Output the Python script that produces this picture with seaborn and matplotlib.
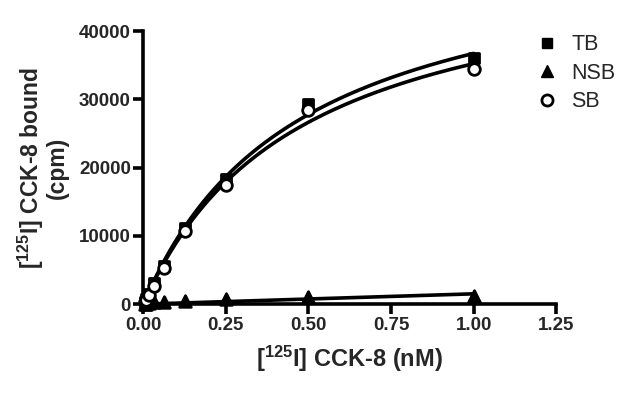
import numpy as np
import pandas as pd
import seaborn as sns
import matplotlib.pyplot as plt
from matplotlib.lines import Line2D

# concentrations of [125I] CCK-8 (nM)
conc = [0.0039, 0.0078, 0.0156, 0.03125, 0.0625, 0.125, 0.25, 0.5, 1.0]

# bound counts (cpm)
tb = [300, 700, 1500, 3100, 5600, 11100, 18300, 29300, 36000]
nsb = [50, 80, 150, 250, 380, 500, 700, 1000, 1250]
sb = [250, 650, 1300, 2700, 5300, 10700, 17400, 28400, 34400]

series_names = ['TB', 'NSB', 'SB']
x_ticks = [0.0, 0.25, 0.5, 0.75, 1.0, 1.25]
y_ticks = [0, 10000, 20000, 30000, 40000]

sns.set_style("ticks")
plt.rcParams['font.family'] = ['Liberation Sans', 'DejaVu Sans']
plt.rcParams['mathtext.fontset'] = 'custom'
plt.rcParams['mathtext.rm'] = 'Liberation Sans:bold'
plt.rcParams['mathtext.default'] = 'rm'


def fit_hyperbola(x, y):
    # one-site binding fit, scan Kd and solve Bmax by least squares
    x = np.asarray(x, float)
    y = np.asarray(y, float)
    best = None
    for kd in np.linspace(0.01, 5, 2000):
        f = x / (kd + x)
        bmax = (f @ y) / (f @ f)
        err = ((bmax * f - y) ** 2).sum()
        if best is None or err < best[0]:
            best = (err, kd, bmax)
    return best[1], best[2]


df = pd.DataFrame({
    'conc': conc * 3,
    'bound': tb + nsb + sb,
    'series': ['TB'] * len(conc) + ['NSB'] * len(conc) + ['SB'] * len(conc),
})

fig, ax = plt.subplots(figsize=(6.4, 3.93), dpi=100)
fig.subplots_adjust(left=0.224, right=0.869, bottom=0.226, top=0.921)

xs = np.linspace(0, max(conc), 300)
curves = []
for name in series_names:
    sub = df[df['series'] == name]
    if name == 'NSB':
        slope = (sub['conc'] @ sub['bound']) / (sub['conc'] @ sub['conc'])
        ys = slope * xs
    else:
        kd, bmax = fit_hyperbola(sub['conc'], sub['bound'])
        ys = bmax * xs / (kd + xs)
    curves.append(pd.DataFrame({'conc': xs, 'bound': ys, 'series': name}))
curve_df = pd.concat(curves)

sns.lineplot(data=curve_df, x='conc', y='bound', units='series', estimator=None,
             color='black', linewidth=2.6, ax=ax, clip_on=False)

styles = {
    'TB': dict(marker='s', s=55, color='black', edgecolor='black'),
    'NSB': dict(marker='^', s=70, color='black', edgecolor='black'),
    'SB': dict(marker='o', s=70, color='white', edgecolor='black'),
}
for name in series_names:
    sub = df[df['series'] == name]
    sns.scatterplot(data=sub, x='conc', y='bound', ax=ax, linewidth=2,
                    clip_on=False, zorder=3, **styles[name])

ax.set_xlim(0, 1.25)
ax.set_ylim(0, 40000)
ax.set_xticks(x_ticks)
ax.set_xticklabels([f'{t:.2f}' for t in x_ticks])
ax.set_yticks(y_ticks)
ax.set_yticklabels([str(t) for t in y_ticks])
for lab in ax.get_xticklabels() + ax.get_yticklabels():
    lab.set_fontweight('bold')
    lab.set_fontsize(13.5)
ax.tick_params(axis='both', length=7, width=2.6, color='black', pad=2)

sns.despine(ax=ax)
for sp in ['left', 'bottom']:
    ax.spines[sp].set_linewidth(2.6)
    ax.spines[sp].set_color('black')

ax.set_xlabel('[$^{125}$I] CCK-8 (nM)', fontsize=17, fontweight='bold', labelpad=7)
ax.set_ylabel('[$^{125}$I] CCK-8 bound\n(cpm)', fontsize=16.5, fontweight='bold',
              labelpad=7, linespacing=1.0)

handles = [
    Line2D([], [], linestyle='none', marker='s', markersize=7, color='black'),
    Line2D([], [], linestyle='none', marker='^', markersize=8, color='black'),
    Line2D([], [], linestyle='none', marker='o', markersize=8, markerfacecolor='white',
           markeredgecolor='black', markeredgewidth=2),
]
fig.legend(handles, series_names, loc='upper left', bbox_to_anchor=(0.805, 0.962),
           frameon=False, fontsize=15.5, handletextpad=0.5, labelspacing=0.35,
           handlelength=1.2)

fig.savefig('out.png', dpi=100)
